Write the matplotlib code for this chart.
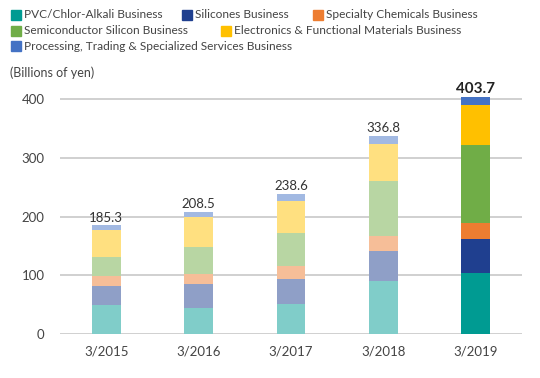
import matplotlib
matplotlib.use("Agg")
import matplotlib.pyplot as plt
from matplotlib.patches import Rectangle
import numpy as np

plt.rcParams['font.family'] = ['Lato', 'DejaVu Sans']

years = ["3/2015", "3/2016", "3/2017", "3/2018", "3/2019"]
segments = [
    "PVC/Chlor-Alkali Business",
    "Silicones Business",
    "Specialty Chemicals Business",
    "Semiconductor Silicon Business",
    "Electronics & Functional Materials Business",
    "Processing, Trading & Specialized Services Business",
]
pvc = [49.2, 44.1, 51.0, 90.3, 103.4]
silicones = [33.2, 40.6, 43.1, 52.1, 59.3]
specialty = [17.0, 18.6, 22.6, 25.4, 27.1]
semicon = [32.2, 45.8, 55.0, 93.2, 131.6]
electronics = [46.5, 50.2, 55.5, 62.7, 67.9]
processing = [7.2, 9.2, 11.4, 13.1, 14.4]
totals = [185.3, 208.5, 238.6, 336.8, 403.7]
total_labels = ["185.3", "208.5", "238.6", "336.8", "403.7"]

colors = ["#009b92", "#1f3f8f", "#ed7d31", "#70ad47", "#ffc000", "#4472c4"]

def lighten(c, f=0.5):
    r, g, b = matplotlib.colors.to_rgb(c)
    return (1 - f * (1 - r), 1 - f * (1 - g), 1 - f * (1 - b))

fig = plt.figure(figsize=(5.4, 3.78), dpi=100)
ax = fig.add_axes([60/540, 1 - 334.3/378, 462/540, (334.3 - 87.3)/378])

series = [pvc, silicones, specialty, semicon, electronics, processing]
x = np.arange(len(years))
bottom = np.zeros(len(years))
for s, c in zip(series, colors):
    vals = np.array(s)
    cols = [lighten(c) if i < len(years) - 1 else c for i in range(len(years))]
    ax.bar(x, vals, 0.31, bottom=bottom, color=cols, edgecolor='none', zorder=3)
    bottom += vals

for i, (t, lab) in enumerate(zip(totals, total_labels)):
    if i == len(years) - 1:
        ax.text(i, bottom[i] + 2, lab, ha='center', va='bottom', fontsize=11,
                fontweight='bold', color='#222222')
    else:
        ax.text(i, bottom[i] + 3, lab, ha='center', va='bottom', fontsize=9.5,
                color='#333333')

ax.set_xlim(-0.5, len(years) - 0.5)
ax.set_ylim(0, 420)
ax.set_yticks([0, 100, 200, 300, 400])
ax.yaxis.grid(True, color='#c8c8c8', linewidth=1.2, zorder=0)
ax.set_axisbelow(True)
for sp in ax.spines.values():
    sp.set_visible(False)
ax.tick_params(axis='both', length=0, labelsize=9.5, colors='#444444')
ax.tick_params(axis='y', pad=11)
ax.tick_params(axis='x', pad=8)
ax.set_xticks(x)
ax.set_xticklabels(years)

fig.text(10/540, 1 - 73/378, "(Billions of yen)", fontsize=9, color='#444444',
         va='center', ha='left')

# legend
leg_pos = [(11, 15), (182, 15), (313, 15), (11, 31), (221, 31), (11, 46)]
for (lx, ly), name, c in zip(leg_pos, segments, colors):
    fig.patches.append(Rectangle((lx/540, 1 - (ly + 5)/378), 10/540, 10/378,
                                 transform=fig.transFigure, color=c))
    fig.text((lx + 13)/540, 1 - ly/378, name, fontsize=8.6, color='#444444',
             va='center', ha='left')

fig.savefig("out.png", dpi=100)
